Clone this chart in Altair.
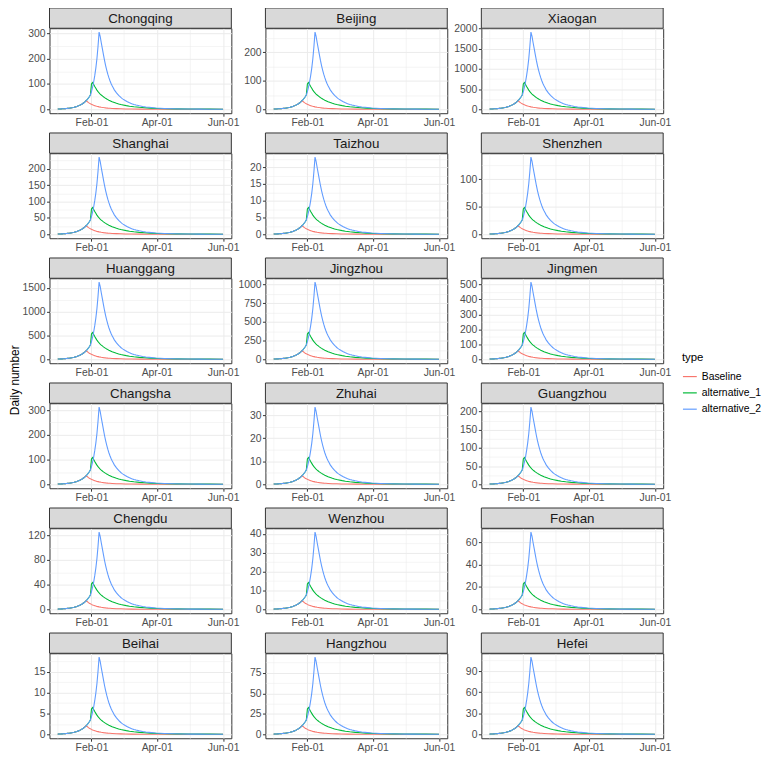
import altair as alt
import pandas as pd
from datetime import datetime, timezone

FONT = "Liberation Sans"

# ---------------- data ----------------
cities = ["Chongqing", "Beijing", "Xiaogan",
          "Shanghai", "Taizhou", "Shenzhen",
          "Huanggang", "Jingzhou", "Jingmen",
          "Changsha", "Zhuhai", "Guangzhou",
          "Chengdu", "Wenzhou", "Foshan",
          "Beihai", "Hangzhou", "Hefei"]
# peak of alternative_2 in each panel
peaks = [305, 270, 1910,
         235, 23, 140,
         1620, 1030, 515,
         312, 33.5, 212,
         125, 41, 69,
         18.5, 94, 110]
tick_steps = [100, 100, 500,
              50, 5, 50,
              500, 250, 100,
              100, 10, 50,
              40, 10, 20,
              5, 25, 30]

types = ["Baseline", "alternative_1", "alternative_2"]
colors = ["#F8766D", "#00BA38", "#619CFF"]

# common shape (day 0 = 2020-01-01)
rise_days = list(range(0, 26))
rise_vals = [1.2, 1.4, 1.6, 1.8, 2.1, 2.3, 2.7, 3.0, 3.4, 3.9, 4.4, 5.0, 5.7,
             6.5, 7.3, 8.3, 9.5, 10.8, 12.2, 13.9, 15.7, 17.9, 20.3, 23.0, 26.1, 29.7]

base_days = [26, 27, 28, 29, 30, 31, 32, 33, 34, 35, 36, 38, 40, 42, 44, 46, 48, 50,
             54, 58, 62, 68, 76, 86, 100, 120, 152]
base_vals = [35, 31, 27.5, 24.5, 22, 19.8, 17.8, 16, 14.5, 13.1, 11.9, 9.9, 8.3, 7,
             5.9, 5, 4.3, 3.7, 2.8, 2.2, 1.7, 1.2, 0.85, 0.6, 0.4, 0.25, 0.15]

alt1_days = [26, 27, 28, 29, 30, 31, 32, 33, 34, 35, 36, 37, 38, 39, 40, 41, 42, 43,
             44, 45, 46, 47, 48, 49, 50, 52, 54, 56, 58, 60, 63, 66, 70, 75, 80, 85,
             92, 100, 110, 120, 130, 140, 152]
alt1_vals = [34, 38.5, 44, 50, 57, 100, 106, 98, 90, 83, 76, 70, 65, 60.5, 56.5, 53,
             49.5, 46.5, 43.5, 41, 38.5, 36, 34, 32, 30, 27, 24, 21.5, 19.3, 17.4,
             14.8, 12.6, 10.3, 8, 6.3, 5, 3.7, 2.7, 1.9, 1.4, 1.1, 0.9, 0.7]

alt2_days = [26, 27, 28, 29, 30, 31, 32, 33, 34, 35, 36, 37, 38, 39, 40, 41, 42, 43,
             44, 45, 46, 47, 48, 49, 50, 51, 52, 53, 54, 55, 56, 57, 58, 59, 60, 62,
             64, 66, 68, 70, 72, 75, 78, 81, 84, 90, 98, 106, 114, 122, 130, 138,
             146, 152]
alt2_vals = [34, 38.5, 44, 50, 57, 70, 88, 108, 133, 163, 200, 248, 305, 288, 263,
             240, 216, 193, 173, 155, 139, 125, 113, 102, 93, 85, 77, 71, 65, 60, 55,
             51, 47, 43.5, 40.5, 35, 30, 26, 22.5, 19.5, 17, 14, 11.5, 9.5, 8, 5.5,
             3.6, 2.4, 1.7, 1.2, 0.9, 0.7, 0.6, 0.5]
template_peak = 305.0

DAY = 86400000
T0 = int(datetime(2020, 1, 1, tzinfo=timezone.utc).timestamp() * 1000)


def ms(y, m, d, h=0):
    return int(datetime(y, m, d, h, tzinfo=timezone.utc).timestamp() * 1000)


series = {
    "Baseline": (rise_days + base_days, rise_vals + base_vals),
    "alternative_1": (rise_days + alt1_days, rise_vals + alt1_vals),
    "alternative_2": (rise_days + alt2_days, rise_vals + alt2_vals),
}

x_lo = T0 - 7.6 * DAY
x_hi = T0 + 152 * DAY + 7.6 * DAY
x_values = [ms(2020, 1, 1), ms(2020, 2, 1), ms(2020, 3, 2), ms(2020, 4, 1),
            ms(2020, 5, 1, 12), ms(2020, 6, 1)]
x_test = "utcmonth(datum.value) % 2 == 1"

W, H = 184, 86


def panel(i):
    city = cities[i]
    k = peaks[i] / template_peak
    rows = []
    for t in types:
        ds, vs = series[t]
        for d, v in zip(ds, vs):
            rows.append({"date": T0 + d * DAY, "value": v * k, "type": t})
    df = pd.DataFrame(rows)
    M = df["value"].max()
    lo, hi = -0.05 * M, 1.05 * M
    step = tick_steps[i]
    yv = []
    j = -1
    while j * step / 2 <= hi:
        v = j * step / 2
        if v >= lo:
            yv.append(v)
        j += 1
    y_test = f"abs(datum.value/{step} - round(datum.value/{step})) < 0.001"

    x_enc = alt.X("date:T", title=None,
                  scale=alt.Scale(type="utc", domain=[x_lo, x_hi], nice=False),
                  axis=alt.Axis(values=x_values,
                                labelExpr=f"{x_test} ? utcFormat(datum.value, '%b-%d') : ''",
                                gridWidth={"condition": {"test": x_test, "value": 1.0}, "value": 0.5},
                                tickSize={"condition": {"test": x_test, "value": 3}, "value": 0},
                                labelFlush=False))
    y_enc = alt.Y("value:Q", title=None,
                  scale=alt.Scale(domain=[lo, hi], nice=False, zero=False),
                  axis=alt.Axis(values=yv, format="d",
                                labelExpr=f"{y_test} ? datum.label : ''",
                                gridWidth={"condition": {"test": y_test, "value": 1.0}, "value": 0.5},
                                tickSize={"condition": {"test": y_test, "value": 3}, "value": 0}))
    c_enc = alt.Color("type:N", title="type",
                      scale=alt.Scale(domain=types, range=colors))
    base = alt.Chart(df).encode(x=x_enc, y=y_enc, color=c_enc)
    lines = [base.transform_filter(alt.datum.type == t).mark_line(strokeWidth=1.1)
             for t in types]
    sdf = pd.DataFrame({"city": [city]})
    strip = alt.Chart(sdf).mark_rect(fill="#d9d9d9", stroke="#333333", strokeWidth=1).encode(
        x=alt.value(0), x2=alt.value(W), y=alt.value(-20.5), y2=alt.value(0))
    text = alt.Chart(sdf).mark_text(font=FONT, fontSize=13.5, color="#1a1a1a",
                                    baseline="middle", align="center").encode(
        x=alt.value(W / 2), y=alt.value(-9.5), text="city:N")
    return alt.layer(*lines, strip, text).properties(width=W, height=H)


chart = alt.concat(*[panel(i) for i in range(len(cities))], columns=3,
                   spacing={"row": 40.5, "column": 34.5}, bounds="flush").properties(
    title=alt.TitleParams("Daily number", orient="left", anchor="middle",
                          fontSize=12, fontWeight="normal", color="black",
                          font=FONT, offset=0),
    padding={"left": 0, "top": -6, "right": 0, "bottom": 0},
).configure_view(
    stroke="#333333", strokeWidth=1
).configure_axis(
    domain=False, labelFont=FONT, labelFontSize=10.5, labelColor="#4d4d4d",
    tickColor="#333333", labelPadding=1.5, gridColor="#ebebeb"
).configure_legend(
    orient="none", legendX=640, legendY=328,
    titleFont=FONT, titleFontSize=11.5, titleFontWeight="normal", titleColor="black",
    labelFont=FONT, labelFontSize=10.5, labelColor="black",
    symbolType="stroke", symbolSize=196, symbolStrokeWidth=1.2, rowPadding=2.5,
    titlePadding=5
)

chart.save("out.html", embed_options={"renderer": "svg", "actions": False})
